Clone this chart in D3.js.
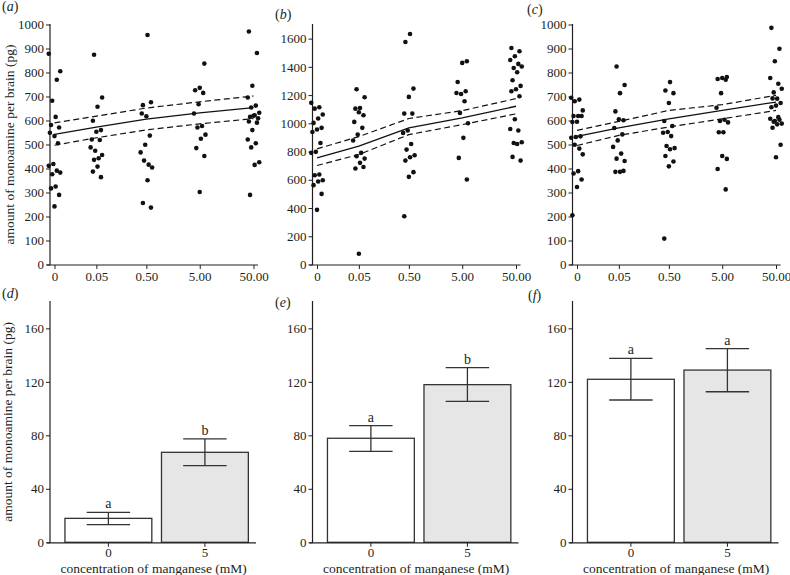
<!DOCTYPE html>
<html><head><meta charset="utf-8">
<script src="https://cdn.jsdelivr.net/npm/d3@7"></script>
<style>
body{margin:0;background:#fff;}
svg text{font-family:"Liberation Serif","Times New Roman",serif;fill:#231f20;}
</style></head>
<body><svg id="c" width="790" height="575"></svg>
<script>
// ---------- data ----------
const concLabels = ["0", "0.05", "0.50", "5.00", "50.00"];
const concValues = [0, 0.05, 0.5, 5, 50];

const pointsA = [
  [878,770,682,805,615,581,571,535,549,505,419,411,391,376,383,325,317,290,242],
  [874,696,657,599,560,553,521,519,474,488,443,436,456,408,387,364],
  [956,664,676,618,629,537,499,467,416,433,404,351,256,237],
  [837,736,726,715,668,629,577,571,541,524,485,452,302],
  [971,881,745,696,662,654,632,622,615,609,620,596,591,560,521,505,488,426,415,290]
];
const pointsB = [
  [1145,1114,1104,1062,1034,1003,968,956,939,861,798,791,637,632,597,588,562,500,387],
  [1241,1185,1109,1104,1057,1078,1010,968,920,878,791,767,750,720,680,691,76],
  [1633,1576,1246,1187,1069,1069,949,932,854,814,774,760,736,654,621,342],
  [1440,1428,1293,1227,1208,1215,1156,1074,1001,897,755,602],
  [1534,1510,1475,1449,1421,1392,1402,1362,1305,1265,1241,1227,1192,1029,960,949,861,866,854,762,736]
];
const pointsC = [
  [695,687,680,642,619,619,619,595,594,534,531,528,483,499,459,389,379,354,323,205],
  [825,748,714,638,601,605,569,542,517,490,462,441,431,386,386,390],
  [760,725,714,673,598,577,552,549,535,494,485,480,452,429,409,108],
  [781,777,773,770,714,653,603,598,592,551,551,440,452,398,313],
  [986,899,847,777,753,717,732,691,692,673,662,655,603,598,607,614,595,587,584,570,499,447]
];
const fitA = [542, 572, 606, 632, 654];
const upperA = [590, 618, 652, 678, 702];
const lowerA = [497, 528, 561, 586, 608];
const fitB = [755, 838, 968, 1038, 1121];
const upperB = [819, 906, 1034, 1090, 1175];
const lowerB = [701, 779, 920, 991, 1067];
const fitC = [534, 569, 607, 642, 677];
const upperC = [559, 596, 642, 666, 705];
const lowerC = [496, 538, 573, 607, 642];

const scatterTicksAC = [0,100,200,300,400,500,600,700,800,900,1000];
const scatterTicksB = [0,200,400,600,800,1000,1200,1400,1600];

const barGroups = ["0", "5"];
const meanD = [17.9, 67.3], errHiD = [22.4, 77.3], errLoD = [13.2, 57.3], lettersD = ["a", "b"];
const meanE = [77.8, 117.9], errHiE = [87.2, 130.6], errLoE = [68.0, 105.4], lettersE = ["a", "b"];
const meanF = [121.9, 128.8], errHiF = [137.6, 144.8], errLoF = [106.4, 112.6], lettersF = ["a", "a"];
const barTicks = [0, 40, 80, 120, 160];

const yTitle = "amount of monoamine per brain (pg)";
const xTitle = "concentration of manganese (mM)";

// ---------- drawing ----------
const svg = d3.select("#c");
const ink = "#231f20";
const panelX = [50, 312.5, 572.5];

function styleAxis(g) {
  g.select(".domain").remove();
  g.selectAll(".tick line").attr("stroke", ink).attr("stroke-width", 1);
  g.selectAll(".tick text").style("font-size", "13px").attr("fill", ink);
}

function panelLetter(x, y, letter) {
  const t = svg.append("text").attr("x", x).attr("y", y).style("font-size", "14px");
  t.append("tspan").text("(");
  t.append("tspan").style("font-style", "italic").text(letter);
  t.append("tspan").text(")");
}

function scatterPanel(i, pts, fit, up, lo, ymax, ticks, letter, letterPos, title) {
  const ax = panelX[i];
  const y = d3.scaleLinear().domain([0, ymax]).range([264.5, 24.5]);
  const x = d3.scaleLog().domain([0.01, 50.01]).range([ax + 4.5, ax + 203.5]);
  const g = svg.append("g");
  g.append("line").attr("x1", ax).attr("x2", ax).attr("y1", y(0) + 0.5).attr("y2", 24)
    .attr("stroke", ink).attr("stroke-width", 1.2);
  g.append("line").attr("x1", ax - 3).attr("x2", ax + 208).attr("y1", y(0) + 0.5).attr("y2", y(0) + 0.5)
    .attr("stroke", ink).attr("stroke-width", 1.2);
  g.append("g").attr("transform", `translate(${ax},0)`)
    .call(d3.axisLeft(y).tickValues(ticks).tickSize(4).tickPadding(2).tickFormat(d3.format("d")))
    .call(styleAxis);
  g.append("g").attr("transform", `translate(0,${y(0) + 0.5})`)
    .call(d3.axisBottom(x).tickValues(concValues.map(c => c + 0.01)).tickSize(4).tickPadding(3)
      .tickFormat((d, k) => concLabels[k]))
    .call(styleAxis);
  pts.forEach((grp, gi) => {
    g.selectAll(null).data(grp).enter().append("circle")
      .attr("cx", (v, k) => x(concValues[gi] + 0.01) + (((k * 7 + gi * 3) % 11) - 5) * 1.15)
      .attr("cy", v => y(v))
      .attr("r", 2.3).attr("fill", "#111");
  });
  const line = d3.line().x((v, k) => x(concValues[k] + 0.01)).y(v => y(v));
  g.append("path").attr("d", line(fit)).attr("fill", "none").attr("stroke", "#111").attr("stroke-width", 1.3);
  [up, lo].forEach(s => g.append("path").attr("d", line(s)).attr("fill", "none")
    .attr("stroke", "#111").attr("stroke-width", 1.2).attr("stroke-dasharray", "6,3.5"));
  if (title) {
    svg.append("text").attr("transform", `translate(14,${(y(0) + y(ymax)) / 2}) rotate(-90)`)
      .attr("text-anchor", "middle").style("font-size", "13.5px").text(yTitle);
  }
  panelLetter(letterPos[0], letterPos[1], letter);
}

function barPanel(i, mean, hi, lo, letters, letter, letterPos, title) {
  const ax = panelX[i];
  const y = d3.scaleLinear().domain([0, 180]).range([542.3, 301.6]);
  const x = d3.scaleBand().domain(barGroups).range([ax + 5.3, ax + 208]).paddingInner(0.1).paddingOuter(0.1);
  const g = svg.append("g");
  const fills = ["#ffffff", "#e6e6e6"];
  g.selectAll(null).data(mean).enter().append("rect")
    .attr("x", (v, k) => x(barGroups[k])).attr("width", x.bandwidth())
    .attr("y", v => y(v)).attr("height", v => y(0) - y(v))
    .attr("fill", (v, k) => fills[k]).attr("stroke", "#333").attr("stroke-width", 1.3);
  const cw = x.bandwidth() * 0.5;
  mean.forEach((v, k) => {
    const cx = x(barGroups[k]) + x.bandwidth() / 2;
    g.append("line").attr("x1", cx).attr("x2", cx).attr("y1", y(hi[k])).attr("y2", y(lo[k]))
      .attr("stroke", "#333").attr("stroke-width", 1.3);
    [hi[k], lo[k]].forEach(e => g.append("line").attr("x1", cx - cw / 2).attr("x2", cx + cw / 2)
      .attr("y1", y(e)).attr("y2", y(e)).attr("stroke", "#333").attr("stroke-width", 1.3));
    g.append("text").attr("x", cx).attr("y", y(hi[k]) - 4).attr("text-anchor", "middle")
      .style("font-size", "14px").text(letters[k]);
  });
  g.append("line").attr("x1", ax).attr("x2", ax).attr("y1", y(0) + 0.5).attr("y2", 301)
    .attr("stroke", ink).attr("stroke-width", 1.2);
  g.append("line").attr("x1", ax - 3).attr("x2", ax + 206).attr("y1", y(0) + 0.5).attr("y2", y(0) + 0.5)
    .attr("stroke", ink).attr("stroke-width", 1.2);
  g.append("g").attr("transform", `translate(${ax},0)`)
    .call(d3.axisLeft(y).tickValues(barTicks).tickSize(4).tickPadding(2))
    .call(styleAxis);
  g.append("g").attr("transform", `translate(0,${y(0) + 0.5})`)
    .call(d3.axisBottom(x).tickSize(4).tickPadding(1))
    .call(styleAxis);
  svg.append("text").attr("x", x.range()[0] + (x.range()[1] - x.range()[0]) / 2 - 3).attr("y", 572.5)
    .attr("text-anchor", "middle").style("font-size", "13.5px").text(xTitle);
  if (title) {
    svg.append("text").attr("transform", `translate(12,${(y(0) + y(180)) / 2}) rotate(-90)`)
      .attr("text-anchor", "middle").style("font-size", "13.5px").text(yTitle);
  }
  panelLetter(letterPos[0], letterPos[1], letter);
}

scatterPanel(0, pointsA, fitA, upperA, lowerA, 1000, scatterTicksAC, "a", [2, 11], true);
scatterPanel(1, pointsB, fitB, upperB, lowerB, 1700, scatterTicksB, "b", [275, 19], false);
scatterPanel(2, pointsC, fitC, upperC, lowerC, 1000, scatterTicksAC, "c", [527, 14], false);
barPanel(0, meanD, errHiD, errLoD, lettersD, "d", [2, 298], true);
barPanel(1, meanE, errHiE, errLoE, lettersE, "e", [275, 307], false);
barPanel(2, meanF, errHiF, errLoF, lettersF, "f", [528, 300], false);
</script></body></html>
